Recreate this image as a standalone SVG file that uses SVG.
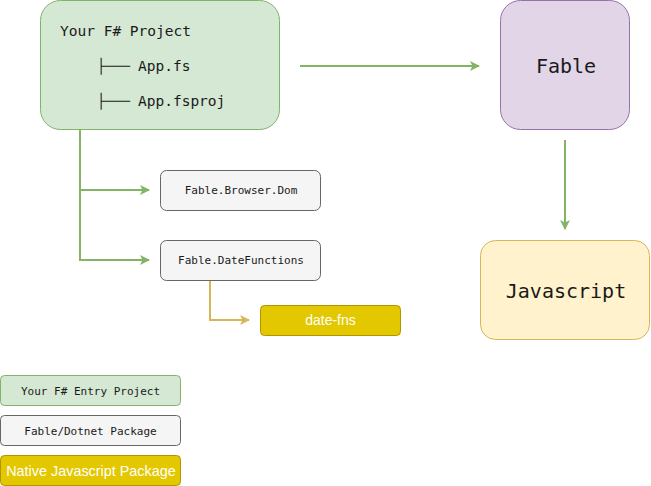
<svg xmlns="http://www.w3.org/2000/svg" width="651" height="486" viewBox="0 0 651 486">
<style>
.mono{font-family:"DejaVu Sans Mono","Liberation Mono",monospace;fill:#1a1a1a}
.sans{font-family:"Liberation Sans",Arial,sans-serif;fill:#ffffff}
.green{fill:#d5e8d4;stroke:#82b366;stroke-width:1}
.grey{fill:#f5f5f5;stroke:#666666;stroke-width:1}
.gold{fill:#e3c800;stroke:#b09500;stroke-width:1}
.edge-g{fill:none;stroke:#82b366;stroke-width:2}
.edge-y{fill:none;stroke:#d6b656;stroke-width:2}
</style>
<defs>
<marker id="ag" viewBox="0 0 10 10" refX="9" refY="5" markerWidth="5" markerHeight="5" orient="auto" markerUnits="strokeWidth">
<path d="M0,0 L10,5 L0,10 L2.5,5 Z" fill="#82b366"/>
</marker>
<marker id="ay" viewBox="0 0 10 10" refX="9" refY="5" markerWidth="5" markerHeight="5" orient="auto" markerUnits="strokeWidth">
<path d="M0,0 L10,5 L0,10 L2.5,5 Z" fill="#d6b656"/>
</marker>
</defs>
<g id="connectors">
<path class="edge-g" d="M300,66 L479,66" marker-end="url(#ag)"/>
<path class="edge-g" d="M565,140 L565,229" marker-end="url(#ag)"/>
<path class="edge-g" d="M80,130 L80,190 L149,190" marker-end="url(#ag)"/>
<path class="edge-g" d="M80,190 L80,260 L149,260" marker-end="url(#ag)"/>
<path class="edge-y" d="M210,280 L210,320 L249,320" marker-end="url(#ay)"/>
</g>
<g id="project">
<rect class="green" x="40.5" y="0.5" width="239" height="129" rx="20"/>
<text class="mono" x="60" y="36" font-size="14.5">Your F# Project</text>
<text class="mono" x="97" y="71" font-size="14.5" textLength="33" lengthAdjust="spacingAndGlyphs">├───</text>
<text class="mono" x="138" y="71" font-size="14.5">App.fs</text>
<text class="mono" x="97" y="106" font-size="14.5" textLength="33" lengthAdjust="spacingAndGlyphs">├───</text>
<text class="mono" x="138" y="106" font-size="14.5">App.fsproj</text>
</g>
<g id="fable">
<rect x="500.5" y="0.5" width="129" height="129" rx="20" fill="#e1d5e7" stroke="#9673a6"/>
<text class="mono" x="566" y="73" font-size="20" text-anchor="middle">Fable</text>
</g>
<g id="javascript">
<rect x="480.5" y="240.5" width="169" height="99" rx="15" fill="#fff2cc" stroke="#d6b656"/>
<text class="mono" x="566" y="298" font-size="20" text-anchor="middle">Javascript</text>
</g>
<g id="browserdom">
<rect class="grey" x="160.5" y="170.5" width="160" height="40" rx="6"/>
<text class="mono" x="241" y="194" font-size="11" text-anchor="middle">Fable.Browser.Dom</text>
</g>
<g id="datefunctions">
<rect class="grey" x="160.5" y="240.5" width="160" height="40" rx="6"/>
<text class="mono" x="241" y="264" font-size="11" text-anchor="middle">Fable.DateFunctions</text>
</g>
<g id="datefns">
<rect class="gold" x="260.5" y="305.5" width="140" height="30" rx="4"/>
<text class="sans" x="330.5" y="325" font-size="14" text-anchor="middle">date-fns</text>
</g>
<g id="legend-entry">
<rect class="green" x="0.5" y="375.5" width="180" height="30" rx="4"/>
<text class="mono" x="90.5" y="394.5" font-size="11" text-anchor="middle">Your F# Entry Project</text>
</g>
<g id="legend-package">
<rect class="grey" x="0.5" y="415.5" width="180" height="30" rx="4"/>
<text class="mono" x="90.5" y="434.5" font-size="11" text-anchor="middle">Fable/Dotnet Package</text>
</g>
<g id="legend-native">
<rect class="gold" x="0.5" y="455.5" width="180" height="30" rx="4"/>
<text class="sans" x="91" y="475.5" font-size="14.4" text-anchor="middle">Native Javascript Package</text>
</g>
</svg>
